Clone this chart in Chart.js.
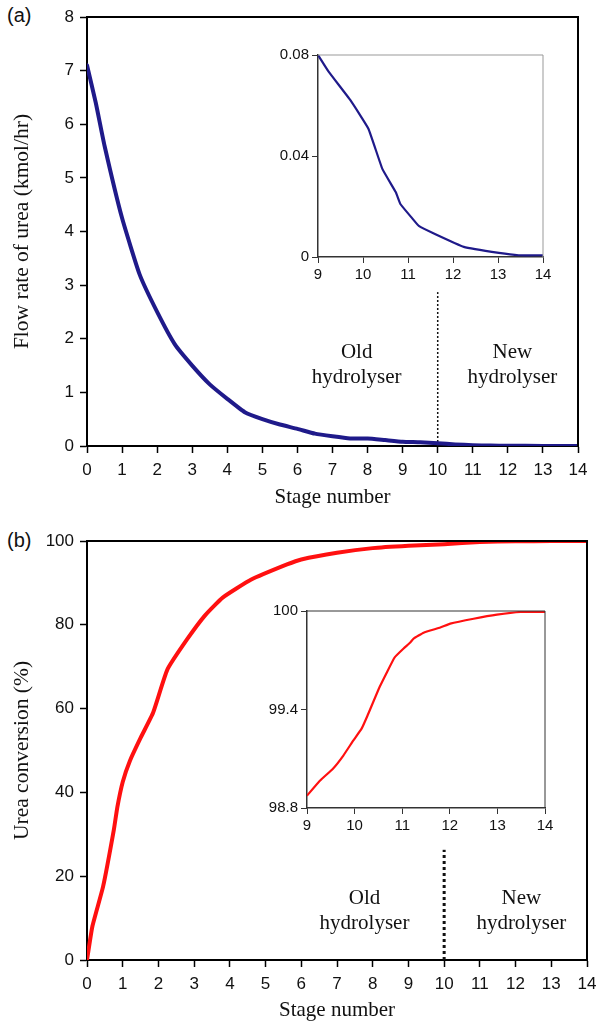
<!DOCTYPE html>
<html>
<head>
<meta charset="utf-8">
<script src="https://cdn.jsdelivr.net/npm/chart.js@4.4.1/dist/chart.umd.min.js"></script>
<style>
  html, body { margin: 0; padding: 0; background: #fff; }
  body { width: 598px; height: 1023px; position: relative; overflow: hidden; }
  .box { position: absolute; }
  .tag { position: absolute; font-family: "Liberation Sans", Arial, sans-serif; font-size: 20px; color: #111; }
</style>
</head>
<body>
<div class="tag" style="left:7px;top:4px">(a)</div>
<div class="tag" style="left:7px;top:529px">(b)</div>
<div class="box" style="left:0;top:0;width:598px;height:510px"><canvas id="chartA"></canvas></div>
<div class="box" style="left:0;top:520px;width:598px;height:503px"><canvas id="chartB"></canvas></div>
<div class="box" style="left:270px;top:40px;width:285px;height:252px"><canvas id="insetA"></canvas></div>
<div class="box" style="left:255px;top:598px;width:300px;height:240px"><canvas id="insetB"></canvas></div>

<script>
// ---- data ----
const stageTicks = [0, 1, 2, 3, 4, 5, 6, 7, 8, 9, 10, 11, 12, 13, 14];
const insetStageTicks = [9, 10, 11, 12, 13, 14];

// (a) flow rate of urea
const flowStages = [0, 0.25, 0.5, 1, 1.5, 2, 2.5, 3, 3.5, 4, 4.5, 5, 5.5, 6, 6.5, 7, 7.5, 8, 8.5, 9, 9.5, 10, 10.5, 11, 11.5, 12, 13, 14];
const flowRate = [7.1, 6.4, 5.6, 4.25, 3.2, 2.5, 1.9, 1.5, 1.15, 0.88, 0.63, 0.5, 0.4, 0.32, 0.23, 0.18, 0.14, 0.14, 0.11, 0.08, 0.07, 0.05, 0.03, 0.015, 0.008, 0.005, 0.0015, 0.0007];
const flowTicks = [0, 1, 2, 3, 4, 5, 6, 7, 8];

const insetFlowStages = [9, 9.24, 9.72, 10.12, 10.43, 10.73, 10.83, 11.09, 11.24, 11.61, 12.24, 13.02, 13.46, 14];
const insetFlowRate = [0.08, 0.0733, 0.0621, 0.0508, 0.0349, 0.0256, 0.021, 0.0154, 0.0123, 0.009, 0.004, 0.0016, 0.0007, 0.0007];
const insetFlowTicks = [0, 0.04, 0.08];

// (b) urea conversion
const convStages = [0, 0.15, 0.45, 0.75, 0.85, 1, 1.2, 1.5, 1.85, 2.25, 2.8, 3.3, 3.8, 4.6, 5.6, 6, 7, 8, 9, 10, 11, 12, 13, 14];
const conversion = [0, 8, 17.5, 31, 36.5, 42.5, 47.5, 53, 59, 69.3, 76.5, 82.2, 86.5, 90.8, 94.4, 95.6, 97.2, 98.3, 98.85, 99.25, 99.75, 99.93, 99.98, 100];
const convTicks = [0, 20, 40, 60, 80, 100];

const insetConvStages = [9, 9.27, 9.55, 9.76, 9.97, 10.15, 10.27, 10.53, 10.84, 11.03, 11.17, 11.24, 11.45, 11.8, 12.01, 12.5, 12.99, 13.49, 14];
const insetConv = [98.875, 98.966, 99.041, 99.118, 99.21, 99.285, 99.362, 99.54, 99.717, 99.772, 99.808, 99.832, 99.868, 99.899, 99.923, 99.953, 99.978, 99.994, 99.994];
const insetConvTicks = [98.8, 99.4, 100];

// divider between old and new hydrolyser
const dividerStage = 10;
const dividerA = [0, 2.87];
const dividerB = [0, 26.3];

const oldLabel = ["Old", "hydrolyser"];
const newLabel = ["New", "hydrolyser"];

// ---- helpers ----
const SANS = '"Liberation Sans", Arial, sans-serif';
const SERIF = '"Liberation Serif", "Times New Roman", serif';

function toPoints(xs, ys) {
  const pts = [];
  for (let i = 0; i < xs.length; i++) pts.push({ x: xs[i], y: ys[i] });
  return pts;
}

function fixedTicks(list) {
  return function (scale) {
    scale.ticks = list.map(function (v) { return { value: v }; });
  };
}

// fixed scale box, no extra room for overflowing labels
function fitX(h) {
  return function (s) { s.height = h; s.paddingLeft = 0; s.paddingRight = 0; };
}
function fitY(w) {
  return function (s) { s.width = w; s.paddingTop = 0; s.paddingBottom = 0; };
}

// draws top and right edges of the plot box
const framePlugin = {
  id: "frame",
  afterDraw: function (chart, args, opts) {
    const a = chart.chartArea;
    const ctx = chart.ctx;
    ctx.save();
    ctx.strokeStyle = opts.color || "#000";
    ctx.lineWidth = opts.width || 2;
    ctx.beginPath();
    ctx.moveTo(a.left, a.top);
    ctx.lineTo(a.right, a.top);
    ctx.lineTo(a.right, a.bottom);
    ctx.stroke();
    ctx.restore();
  }
};

// region text placed at data coordinates
const notesPlugin = {
  id: "notes",
  afterDatasetsDraw: function (chart, args, opts) {
    if (!opts.items) return;
    const ctx = chart.ctx;
    const xs = chart.scales.x, ys = chart.scales.y;
    ctx.save();
    ctx.font = opts.font;
    ctx.fillStyle = "#111";
    ctx.textAlign = "center";
    ctx.textBaseline = "middle";
    opts.items.forEach(function (it) {
      const px = xs.getPixelForValue(it.x);
      let py = ys.getPixelForValue(it.y);
      it.lines.forEach(function (line) {
        ctx.fillText(line, px, py);
        py += opts.lineGap;
      });
    });
    ctx.restore();
  }
};

Chart.register(framePlugin, notesPlugin);
Chart.defaults.animation = false;
Chart.defaults.color = "#111";

function mainChart(id, cfg) {
  return new Chart(document.getElementById(id), {
    type: "line",
    data: {
      datasets: [
        {
          data: cfg.points,
          borderColor: cfg.color,
          borderWidth: 4,
          pointRadius: 0,
          tension: 0.15,
          borderCapStyle: "round",
          borderJoinStyle: "round"
        },
        {
          data: cfg.divider,
          borderColor: "#111",
          borderWidth: cfg.dividerWidth,
          borderDash: cfg.dividerDash,
          pointRadius: 0
        }
      ]
    },
    options: {
      responsive: true,
      maintainAspectRatio: false,
      layout: { padding: { top: cfg.padTop, right: cfg.padRight, left: 0, bottom: 0 } },
      plugins: {
        legend: { display: false },
        tooltip: { enabled: false },
        frame: { color: "#000", width: 2 },
        notes: { font: "21px " + SERIF, lineGap: 25, items: cfg.notes }
      },
      scales: {
        x: {
          type: "linear",
          min: 0,
          max: 14,
          afterBuildTicks: fixedTicks(stageTicks),
          afterFit: fitX(cfg.xHeight),
          ticks: { font: { family: SANS, size: 17 }, padding: 7, maxRotation: 0 },
          grid: { drawOnChartArea: false, tickLength: 7, tickWidth: 1.5, color: "#000" },
          border: { color: "#000", width: 2 },
          title: { display: true, text: "Stage number", font: { family: SERIF, size: 21 }, padding: { top: 0, bottom: 0 } }
        },
        y: {
          min: cfg.yMin,
          max: cfg.yMax,
          afterBuildTicks: fixedTicks(cfg.yTicks),
          afterFit: fitY(87),
          ticks: { font: { family: SANS, size: 17 }, padding: 6 },
          grid: { drawOnChartArea: false, tickLength: 7, tickWidth: 1.5, color: "#000" },
          border: { color: "#000", width: 2 },
          title: { display: true, text: cfg.yTitle, font: { family: SERIF, size: 21.5 }, padding: { top: 9, bottom: 0 } }
        }
      }
    }
  });
}

function insetChart(id, cfg) {
  return new Chart(document.getElementById(id), {
    type: "line",
    data: {
      datasets: [{
        data: cfg.points,
        borderColor: cfg.color,
        borderWidth: 2.2,
        pointRadius: 0,
        tension: 0.1
      }]
    },
    options: {
      responsive: true,
      maintainAspectRatio: false,
      layout: { padding: { top: cfg.padTop, right: cfg.padRight, left: 0, bottom: 0 } },
      plugins: {
        legend: { display: false },
        tooltip: { enabled: false },
        frame: { color: cfg.frameColor, width: 1 }
      },
      scales: {
        x: {
          type: "linear",
          min: 9,
          max: 14,
          afterBuildTicks: fixedTicks(insetStageTicks),
          afterFit: fitX(cfg.xHeight),
          ticks: { font: { family: SANS, size: 15 }, padding: 3, maxRotation: 0 },
          grid: { drawOnChartArea: false, tickLength: 6, tickWidth: 1, color: "#333" },
          border: { color: "#333", width: 1.5 }
        },
        y: {
          min: cfg.yMin,
          max: cfg.yMax,
          afterBuildTicks: fixedTicks(cfg.yTicks),
          afterFit: fitY(cfg.yWidth),
          ticks: {
            font: { family: SANS, size: 15 },
            padding: 3,
            callback: function (v) { return String(Math.round(v * 1000) / 1000); }
          },
          grid: { drawOnChartArea: false, tickLength: 6, tickWidth: 1, color: "#333" },
          border: { color: "#333", width: 1.5 }
        }
      }
    }
  });
}

mainChart("chartA", {
  points: toPoints(flowStages, flowRate),
  color: "#1f1a8a",
  divider: toPoints([dividerStage, dividerStage], dividerA),
  dividerWidth: 1.5,
  dividerDash: [2, 2],
  padTop: 17,
  padRight: 20,
  xHeight: 64,
  yMin: 0,
  yMax: 8,
  yTicks: flowTicks,
  yTitle: "Flow rate of urea (kmol/hr)",
  notes: [
    { x: 7.69, y: 1.74, lines: oldLabel },
    { x: 12.13, y: 1.74, lines: newLabel }
  ]
});

mainChart("chartB", {
  points: toPoints(convStages, conversion),
  color: "#ff1010",
  divider: toPoints([dividerStage, dividerStage], dividerB),
  dividerWidth: 3,
  dividerDash: [3, 3],
  padTop: 21,
  padRight: 11,
  xHeight: 63,
  yMin: 0,
  yMax: 100,
  yTicks: convTicks,
  yTitle: "Urea conversion (%)",
  notes: [
    { x: 7.77, y: 14.8, lines: oldLabel },
    { x: 12.16, y: 14.8, lines: newLabel }
  ]
});

insetChart("insetA", {
  points: toPoints(insetFlowStages, insetFlowRate),
  color: "#1f1a8a",
  frameColor: "#999",
  padTop: 15,
  padRight: 12,
  xHeight: 35,
  yWidth: 48,
  yMin: 0,
  yMax: 0.08,
  yTicks: insetFlowTicks
});

insetChart("insetB", {
  points: toPoints(insetConvStages, insetConv),
  color: "#ff1010",
  frameColor: "#333",
  padTop: 13,
  padRight: 10,
  xHeight: 30,
  yWidth: 52,
  yMin: 98.8,
  yMax: 100,
  yTicks: insetConvTicks
});
</script>
</body>
</html>
